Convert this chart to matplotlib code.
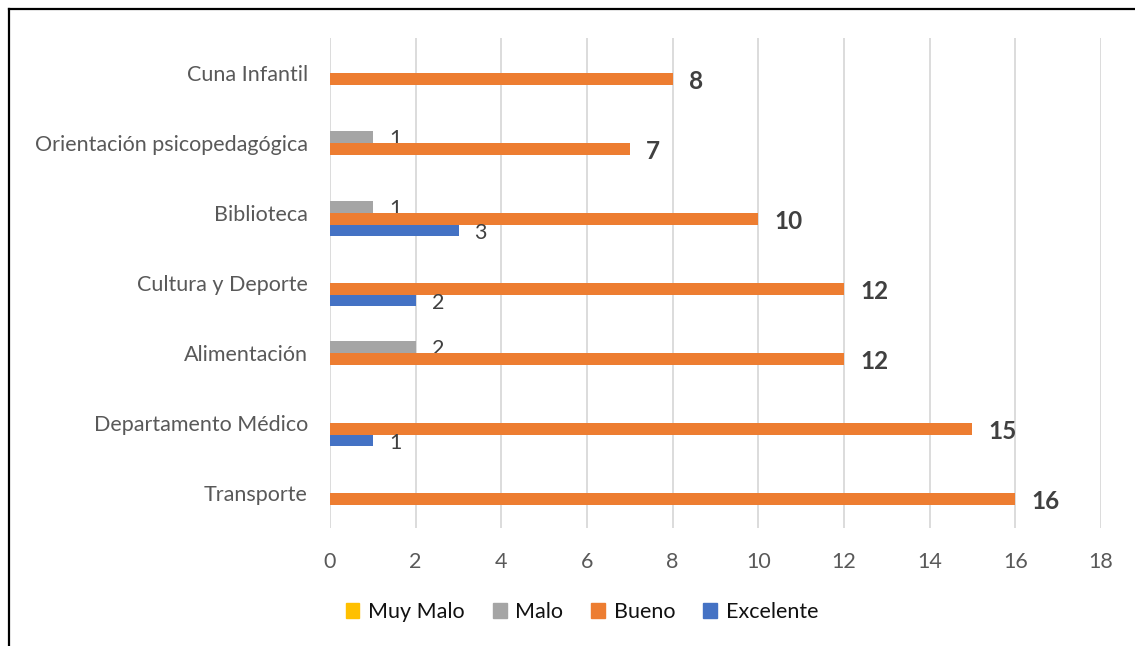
import matplotlib
matplotlib.use("Agg")
import matplotlib.pyplot as plt
from matplotlib.lines import Line2D
from matplotlib.patches import Patch

plt.rcParams['font.family'] = ['Lato', 'DejaVu Sans']

categories = ["Transporte", "Departamento Médico", "Alimentación", "Cultura y Deporte",
              "Biblioteca", "Orientación psicopedagógica", "Cuna Infantil"]
series_names = ["Muy Malo", "Malo", "Bueno", "Excelente"]
muy_malo = [0, 0, 0, 0, 0, 0, 0]
malo = [0, 0, 2, 0, 1, 1, 0]
bueno = [16, 15, 12, 12, 10, 7, 8]
excelente = [0, 1, 0, 2, 3, 0, 0]
colors = ["#FFC000", "#A5A5A5", "#ED7D31", "#4472C4"]
x_ticks = list(range(0, 20, 2))

fig = plt.figure(figsize=(11.35, 6.46), dpi=100)
ax = fig.add_axes([330 / 1135, 1 - 528 / 646, 771 / 1135, 490 / 646])

h = 0.167
offsets = [1.5 * h, 0.5 * h, -0.5 * h, -1.5 * h]
all_series = [muy_malo, malo, bueno, excelente]
ypos = list(range(len(categories)))

for name, vals, off, col in zip(series_names, all_series, offsets, colors):
    y = [p + off for p in ypos]
    ax.barh(y, vals, height=h, color=col, label=name, zorder=3)
    for yy, v in zip(y, vals):
        if v == 0:
            continue
        if name == "Bueno":
            ax.annotate(str(v), (v, yy), xytext=(16, -3), textcoords="offset pixels",
                        va="center", ha="left", fontsize=17.5, fontweight="bold",
                        color="#404040")
        else:
            ax.annotate(str(v), (v, yy), xytext=(16, -2), textcoords="offset pixels",
                        va="center", ha="left", fontsize=15.5, color="#404040")

ax.set_xlim(0, 18)
ax.set_ylim(-0.5, len(categories) - 0.5)
ax.set_xticks(x_ticks)
ax.set_yticks(ypos)
ax.set_yticklabels(categories)
ax.xaxis.grid(True, color="#D9D9D9", linewidth=1.3, zorder=0)
for s in ["top", "right", "bottom", "left"]:
    ax.spines[s].set_visible(False)
ax.tick_params(axis="both", length=0, labelsize=15.5, labelcolor="#595959")
ax.tick_params(axis="y", pad=16)
ax.tick_params(axis="x", pad=17)

handles = [Patch(color=c) for c in colors]
fig.legend(handles, series_names, loc="center", bbox_to_anchor=(582 / 1135, 1 - 612 / 646),
           ncol=4, frameon=False, fontsize=15.5, handlelength=0.65, handleheight=0.65,
           handletextpad=0.4, columnspacing=1.3, labelcolor="#111111")

# outer frame (left and top edges visible)
fig.add_artist(Line2D([8.5 / 1135, 8.5 / 1135], [0, 1 - 8.5 / 646], color="black",
                      linewidth=1.6, transform=fig.transFigure))
fig.add_artist(Line2D([8.5 / 1135, 1], [1 - 8.5 / 646, 1 - 8.5 / 646], color="black",
                      linewidth=1.6, transform=fig.transFigure))

fig.savefig("out.png", dpi=100)
